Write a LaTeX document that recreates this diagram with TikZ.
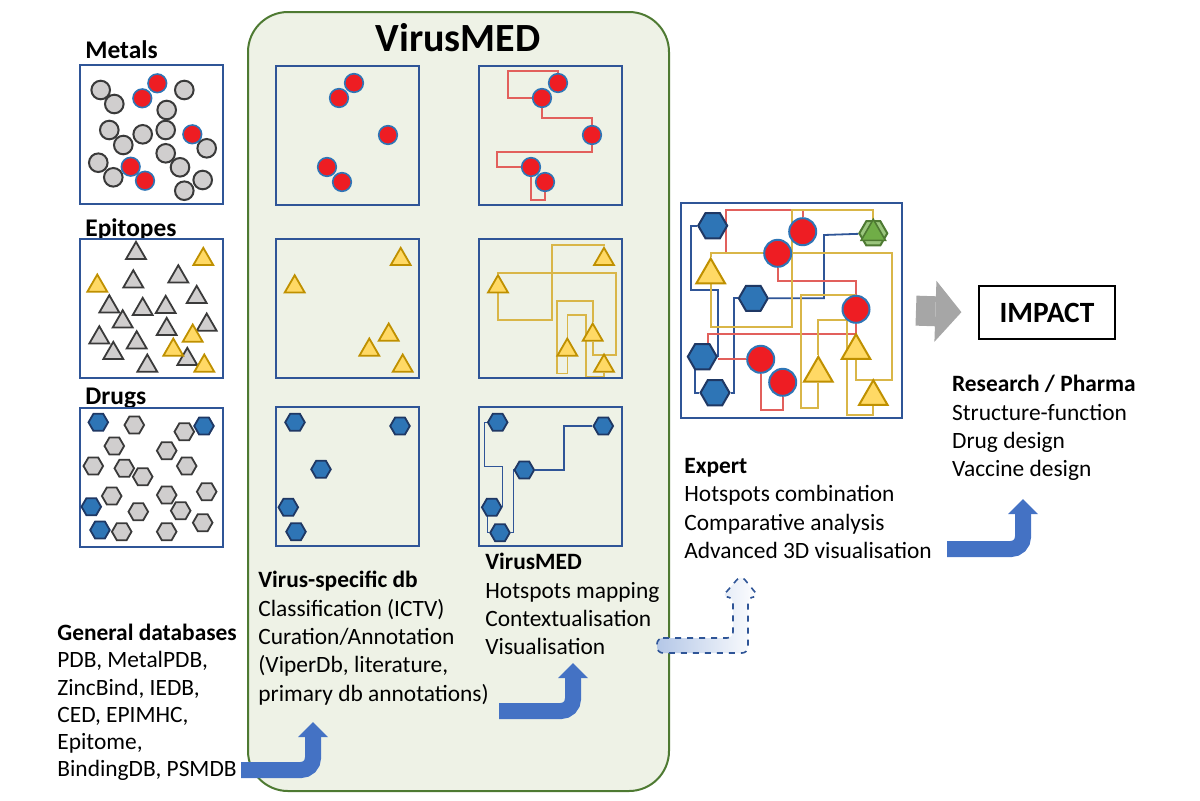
\documentclass[tikz,border=0pt]{standalone}
\usepackage{fontspec}
\setmainfont{Carlito}
\usetikzlibrary{shapes.geometric, arrows.meta, positioning, calc}
\pgfdeclarelayer{back}
\pgfdeclarelayer{wires}
\pgfsetlayers{back,wires,main}

\definecolor{boxnavy}{HTML}{2F5597}
\definecolor{hotred}{HTML}{EE1D23}
\definecolor{wirered}{HTML}{E2605C}
\definecolor{metalgray}{HTML}{D0CECE}
\definecolor{edgegray}{HTML}{3A3A3A}
\definecolor{goldfill}{HTML}{FFD965}
\definecolor{goldedge}{HTML}{BF9000}
\definecolor{goldwire}{HTML}{D9B648}
\definecolor{drugblue}{HTML}{2E75B6}
\definecolor{drugedge}{HTML}{1F3864}
\definecolor{panelgreen}{HTML}{EEF2E6}
\definecolor{edgegreen}{HTML}{4E7A32}
\definecolor{arrowblue}{HTML}{4472C4}
\definecolor{arrowgray}{HTML}{A6A6A6}
\definecolor{leafgreen}{HTML}{70AD47}
\definecolor{paleblue}{HTML}{B4C7E7}

\tikzset{
  metal/.style={circle, fill=metalgray, draw=edgegray, line width=1pt, minimum size=9.3pt, inner sep=0pt},
  hotmetal/.style={circle, fill=hotred, draw=drugblue, line width=0.8pt, minimum size=9.3pt, inner sep=0pt},
  epitope/.style={regular polygon, regular polygon sides=3, fill=metalgray, draw=edgegray, line width=0.9pt, minimum size=11.5pt, inner sep=0pt},
  hotepitope/.style={epitope, fill=goldfill, draw=goldedge},
  drug/.style={regular polygon, regular polygon sides=6, fill=metalgray, draw=edgegray, line width=0.9pt, minimum size=9.8pt, inner sep=0pt},
  hotdrug/.style={drug, fill=drugblue, draw=drugedge},
  panel/.style={draw=boxnavy, line width=1pt, minimum width=71.5pt, minimum height=69.5pt, inner sep=0pt},
  setname/.style={anchor=base west, inner sep=0pt, font=\bfseries\fontsize{12.7}{15}\selectfont},
  txt/.style={anchor=north west, inner sep=0pt, align=left, font=\fontsize{11.7}{14.15}\selectfont},
  redwire/.style={draw=wirered, line width=0.7pt},
  goldline/.style={draw=goldwire, line width=0.8pt},
  navywire/.style={draw=boxnavy, line width=0.7pt},
  blockarrow/.style={draw=arrowblue, line width=8pt, rounded corners=6pt, -{Triangle[width=15pt, length=7.5pt, line width=0pt]}},
}

\begin{document}
\begin{tikzpicture}[x=0.5pt, y=-0.5pt]
    \useasboundingbox (0,0) rectangle (1200,800);

    % --- BACKGROUND: VirusMED box and the hotspot panel ---
    \begin{pgfonlayer}{back}
        \draw[fill=panelgreen, draw=edgegreen, line width=1pt, rounded corners=20pt] (248,12) rectangle (669,791);
        \node[panel, fill=white, line width=1.2pt, minimum width=110.7pt, minimum height=107.5pt] (hub) at (791.5,310.2) {};
    \end{pgfonlayer}

    \node[font=\bfseries\fontsize{20}{24}\selectfont, anchor=base] (title) at (458,51) {VirusMED};

    % --- LEFT COLUMN: general data ---
    \node[setname] (metalsname) at (85,58.3) {Metals};
    \node[setname] (epitopesname) at (85,236) {Epitopes};
    \node[setname] (drugsname) at (85,404) {Drugs};
    \node[panel] (metalsbox) at (151.5,134.5) {};
    \node[panel] (epitopesbox) at (151.5,308) {};
    \node[panel] (drugsbox) at (151.5,477) {};

    \foreach \x/\y [count=\i] in {100.7/90, 114.3/104, 184.3/90, 166.7/110, 109.3/130, 123.3/145,
        142.7/134.3, 165.7/130, 206.7/148.3, 165.7/153.3, 180/167.3, 98.3/162.7, 113.3/177.3,
        202.7/180, 184.3/190.7}
        \node[metal] (lg\i) at (\x,\y) {};
    \foreach \x/\y [count=\i] in {157.3/83.3, 142.3/98.3, 192.3/134.3, 130.7/166.7, 145/180.7}
        \node[hotmetal] (lr\i) at (\x,\y) {};

    \foreach \x/\y [count=\i] in {136/253.3, 133.3/281.7, 178.3/276.7, 109.3/306.7, 142.7/309.3,
        165.7/307.3, 196.7/297.3, 122.7/321.7, 166.7/329.3, 206.7/325, 99.3/337.7, 136.7/342.7,
        113.3/353.3, 187.3/359.3, 147.3/366}
        \node[epitope] (le\i) at (\x,\y) {};
    \foreach \x/\y [count=\i] in {203.3/259.3, 97.3/286, 192.7/336, 173.3/350, 204.3/366}
        \node[hotepitope] (lt\i) at (\x,\y) {};

    \foreach \x/\y [count=\i] in {134.3/425, 184.3/431.7, 114.3/446, 166.7/450.7, 93.3/466,
        124.3/468.3, 142.7/476.7, 186.7/466, 111.7/496, 166.7/495, 206.7/491.7, 138.3/511.7,
        180.7/510.7, 121.7/531.7, 166.7/531.7, 202.7/522.7}
        \node[drug] (ld\i) at (\x,\y) {};
    \foreach \x/\y [count=\i] in {98.3/422.3, 204/426, 91.3/506.7, 100/530}
        \node[hotdrug] (lb\i) at (\x,\y) {};

    % --- MIDDLE: virus-specific hotspots ---
    \node[panel] (vmetals) at (347,135) {};
    \node[panel] (vepitopes) at (347,308.5) {};
    \node[panel] (vdrugs) at (347,476.5) {};
    \foreach \x/\y [count=\i] in {354/83, 339/98, 388/135, 327/167, 342/182}
        \node[hotmetal] (vm\i) at (\x,\y) {};
    \foreach \x/\y [count=\i] in {400.7/259.3, 294.7/286.7, 388.7/335, 369.3/350, 402.7/366}
        \node[hotepitope] (ve\i) at (\x,\y) {};
    \foreach \x/\y [count=\i] in {295/422.3, 400/426, 321/469.3, 288.3/507.3, 296/531.7}
        \node[hotdrug] (vd\i) at (\x,\y) {};

    % --- RIGHT OF MIDDLE: mapped hotspots ---
    \node[panel] (mmetals) at (550.5,135) {};
    \node[panel] (mepitopes) at (550.5,308.5) {};
    \node[panel] (mdrugs) at (550.5,476.5) {};
    \foreach \x/\y [count=\i] in {558/83, 542/98, 592/135, 531/167, 545/182}
        \node[hotmetal] (rm\i) at (\x,\y) {};
    \foreach \x/\y [count=\i] in {604/259.3, 498/286.7, 592.7/335, 567.3/350, 604/366}
        \node[hotepitope] (re\i) at (\x,\y) {};
    \foreach \x/\y [count=\i] in {497.7/422.3, 603.3/426, 524.3/470, 491.7/507.3, 500/532.7}
        \node[hotdrug] (rd\i) at (\x,\y) {};

    \begin{pgfonlayer}{wires}
        \draw[redwire] (rm1) |- (508,71) |- (rm2);
        \draw[redwire] (rm2) -- ++(0,20) -| (rm3);
        \draw[redwire] (rm3) |- (497,152) |- (rm4);
        \draw[redwire] (rm4) -- ++(0,33) -| (rm5);

        \draw[goldline] (re1) |- (551.7,245) |- (re2 |- 0,320) -- (re2);
        \draw[goldline] (re2) |- (616,272.7) |- (re3 |- 0,355) -- (re3);
        \draw[goldline] (re4) |- (556.7,373.3) |- (re3 |- 0,300.7) -- (re3);
        \draw[goldline] (re4) |- (586,315) |- (re5 |- 0,376.7) -- (re5);

        \draw[navywire] (rd1) -| (484.3,466.7) -| (rd4.east);
        \draw[navywire] ([xshift=-2pt]rd4.center) |- (rd5);
        \draw[navywire] (rd5) -| (513.3,470) -- (rd3);
        \draw[navywire] (rd3) -| (564,426) -- (rd2);
    \end{pgfonlayer}

    % --- EXPERT PANEL: combined hotspots ---
    \foreach \x/\y [count=\i] in {712.7/225.7, 753.3/298.3, 702.3/356.7, 715/392.7}
        \node[hotdrug, minimum size=14.5pt, line width=1pt] (bh\i) at (\x,\y) {};
    \foreach \x/\y [count=\i] in {802.7/231.7, 777.7/253.3, 856/309.3, 760.7/359.3, 782.7/382.3}
        \node[hotmetal, minimum size=13.5pt, line width=1pt] (bc\i) at (\x,\y) {};
    \foreach \x/\y [count=\i] in {710.7/275, 818.3/373.3, 856/350.7, 873.3/396.7}
        \node[hotepitope, minimum size=16.5pt, line width=1pt] (bt\i) at (\x,\y) {};
    \node[regular polygon, regular polygon sides=6, fill=leafgreen!70, draw=edgegreen, line width=1pt, minimum size=14pt, inner sep=0pt] (bg) at (873.3,233.3) {};
    \node[regular polygon, regular polygon sides=3, fill=leafgreen, draw=edgegreen, line width=0.8pt, minimum size=14pt, inner sep=0pt] (bgt) at (bg) {};

    \begin{pgfonlayer}{wires}
        \draw[navywire, line width=0.9pt] (bh1) -| (691,290) -| (bh3.east);
        \draw[navywire, line width=0.9pt] ([xshift=-3.5pt]bh3.center) |- (bh4);
        \draw[navywire, line width=0.9pt] (bh4) -| (734,298.3) -- (bh2);
        \draw[navywire, line width=0.9pt] (bh2) -| (824,235) -- (bg);

        \draw[redwire, line width=0.9pt] (bc1) |- (726,210) |- (bc2);
        \draw[redwire, line width=0.9pt] (bc2) |- (856,280.7) -- (bc3);
        \draw[redwire, line width=0.9pt] (bc3) -- ++(0,24.7) -| ([xshift=3pt]bh3.center);
        \draw[redwire, line width=0.9pt] (bh3.east |- bc4) -- (bc4);
        \draw[redwire, line width=0.9pt] (bc4) -- ++(0,50.7) -| (bc5);

        \draw[goldline, line width=0.9pt] (bt1) |- (891.7,253.3) |- (bt3 |- 0,380) -- (bt3);
        \draw[goldline, line width=0.9pt] (bg) |- (791.7,210) |- (710.7,326.7) -- (bt1);
        \draw[goldline, line width=0.9pt] (bt2) |- (800.7,408.3) |- (bc3.north);
        \draw[goldline, line width=0.9pt] (bt2) |- (846.7,320) |- (bt4 |- 0,415) -- (bt4);
    \end{pgfonlayer}

    % --- IMPACT ---
    \node[draw, line width=1pt, minimum width=68pt, minimum height=26.5pt, font=\bfseries\fontsize{14.7}{17}\selectfont] (impact) at (1047,312.7) {IMPACT};
    \draw[draw=arrowgray, line width=15pt, shorten <=6.3pt, shorten >=8.3pt, -{Triangle[width=30.5pt, length=13pt, line width=0pt]}] (hub.east) -- (impact.west);

    % --- TEXT BLOCKS ---
    \node[txt, font=\fontsize{11.7}{13.55}\selectfont] (gendb) at (57,624) {\textbf{General databases}\\PDB, MetalPDB,\\ZincBind, IEDB,\\CED, EPIMHC,\\Epitome,\\BindingDB, PSMDB};
    \node[txt] (vsdb) at (258,571) {\textbf{Virus-specific db}\\Classification (ICTV)\\Curation/Annotation\\(ViperDb, literature,\\primary db annotations)};
    \node[txt] (vmed) at (485,553) {\textbf{VirusMED}\\Hotspots mapping\\Contextualisation\\Visualisation};
    \node[txt] (expert) at (684,458) {\textbf{Expert}\\Hotspots combination\\Comparative analysis\\Advanced 3D visualisation};
    \node[txt] (research) at (951.7,375) {\textbf{Research / Pharma}\\Structure-function\\Drug design\\Vaccine design};

    % --- ARROWS ---
    \coordinate (a1s) at (241,770);
    \coordinate (a1e) at (313,722);
    \coordinate (a2s) at (499,711);
    \coordinate (a2e) at (573,663);
    \coordinate (a4s) at (947,549);
    \coordinate (a4e) at (1023,499);
    \draw[blockarrow] (a1s) -| (a1e);
    \draw[blockarrow] (a2s) -| (a2e);
    \draw[blockarrow] (a4s) -| (a4e);

    \path[draw=boxnavy, dashed, line width=0.8pt, left color=paleblue, right color=white, rounded corners=3pt]
        (657,638) -- (733,638) -- (733,597) -- (722,597) -- (741,575) -- (759,597) -- (748,597)
        -- (748,653) -- (657,653) -- cycle;

\end{tikzpicture}
\end{document}
